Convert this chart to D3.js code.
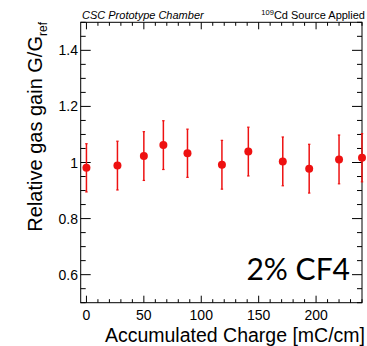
<!DOCTYPE html>
<html>
<head>
<meta charset="utf-8">
<script src="https://cdn.jsdelivr.net/npm/d3@7"></script>
<style>
  body { margin: 0; background: #fff; }
  svg { display: block; font-family: "Liberation Sans", Arial, sans-serif; }
</style>
</head>
<body>
<svg id="chart" width="367" height="346"></svg>
<script>
// accumulated charge [mC/cm], relative gain, error
const charge = [0, 27, 50, 67, 88, 118, 141, 171, 194, 220, 240];
const gain = [0.981, 0.989, 1.023, 1.062, 1.033, 0.992, 1.039, 1.004, 0.978, 1.011, 1.017];
const gainErr = [0.086, 0.087, 0.087, 0.087, 0.086, 0.087, 0.087, 0.087, 0.087, 0.087, 0.086];

const xMajor = [0, 50, 100, 150, 200];
const yMajor = [0.6, 0.8, 1.0, 1.2, 1.4];

const svg = d3.select("#chart");
const fLeft = 80.7, fRight = 362, fTop = 22.3, fBottom = 302.7;

const x = d3.scaleLinear().domain([-5, 240]).range([fLeft, fRight]);
const y = d3.scaleLinear().domain([0.5, 1.5]).range([fBottom, fTop]);

const fmt = d => String(+d.toFixed(2));

// frame
svg.append("rect")
    .attr("x", fLeft).attr("y", fTop)
    .attr("width", fRight - fLeft).attr("height", fBottom - fTop)
    .attr("fill", "none").attr("stroke", "#000").attr("stroke-width", 1);

// x ticks (bottom + top, inward)
const xMinor = d3.range(0, 241, 10);
xMinor.forEach(v => {
    const major = v % 50 === 0;
    const len = major ? 7 : 3.5;
    svg.append("line").attr("x1", x(v)).attr("x2", x(v))
        .attr("y1", fBottom).attr("y2", fBottom - len).attr("stroke", "#000");
    svg.append("line").attr("x1", x(v)).attr("x2", x(v))
        .attr("y1", fTop).attr("y2", fTop + len).attr("stroke", "#000");
});

// y ticks (left + right, inward)
const yMinor = d3.range(0.5, 1.501, 0.05);
yMinor.forEach(v => {
    const major = Math.abs(v * 10 - Math.round(v * 10)) < 1e-6 && Math.round(v * 10) % 2 === 0;
    const len = major ? 10 : 5;
    svg.append("line").attr("y1", y(v)).attr("y2", y(v))
        .attr("x1", fLeft).attr("x2", fLeft + len).attr("stroke", "#000");
    svg.append("line").attr("y1", y(v)).attr("y2", y(v))
        .attr("x1", fRight).attr("x2", fRight - len).attr("stroke", "#000");
});

// tick labels
svg.selectAll("text.xl").data(xMajor).enter().append("text")
    .attr("class", "xl")
    .attr("x", d => x(d)).attr("y", 320)
    .attr("text-anchor", "middle")
    .attr("font-size", 14)
    .text(d => d);

svg.selectAll("text.yl").data(yMajor).enter().append("text")
    .attr("class", "yl")
    .attr("x", 78).attr("y", d => y(d))
    .attr("dy", "0.36em")
    .attr("text-anchor", "end")
    .attr("font-size", 14)
    .text(fmt);

// axis titles
svg.append("text")
    .attr("x", 365).attr("y", 342)
    .attr("text-anchor", "end")
    .attr("font-size", 19.5)
    .text("Accumulated Charge [mC/cm]");

const yt = svg.append("text")
    .attr("transform", "translate(42,22) rotate(-90)")
    .attr("text-anchor", "end")
    .attr("font-size", 20);
yt.append("tspan").text("Relative gas gain G/G");
yt.append("tspan").attr("font-size", 12).attr("dy", 5).text("ref");

// header texts
svg.append("text")
    .attr("x", 82).attr("y", 18.5)
    .attr("font-size", 11).attr("font-style", "italic")
    .text("CSC Prototype Chamber");

const hr = svg.append("text")
    .attr("x", 365).attr("y", 18.5)
    .attr("text-anchor", "end")
    .attr("font-size", 11);
hr.append("tspan").attr("font-size", 7.5).attr("dy", -4).text("109");
hr.append("tspan").attr("dy", 4).text("Cd Source Applied");

// 2% CF4 label
svg.append("text")
    .attr("x", 350).attr("y", 280)
    .attr("text-anchor", "end")
    .attr("font-family", "Lato, 'Open Sans', sans-serif")
    .attr("font-size", 30)
    .text("2% CF4");

// error bars and markers
const pts = charge.map((c, i) => ({c: c, g: gain[i], e: gainErr[i]}));
const red = "#ee1111";

const eb = svg.append("g").selectAll("g").data(pts).enter().append("g");
eb.append("line")
    .attr("x1", d => x(d.c)).attr("x2", d => x(d.c))
    .attr("y1", d => y(d.g - d.e)).attr("y2", d => y(d.g + d.e))
    .attr("stroke", red).attr("stroke-width", 1.5);
eb.append("line")
    .attr("x1", d => x(d.c) - 1.2).attr("x2", d => x(d.c) + 1.2)
    .attr("y1", d => y(d.g + d.e)).attr("y2", d => y(d.g + d.e))
    .attr("stroke", red).attr("stroke-width", 1.2);
eb.append("line")
    .attr("x1", d => x(d.c) - 1.2).attr("x2", d => x(d.c) + 1.2)
    .attr("y1", d => y(d.g - d.e)).attr("y2", d => y(d.g - d.e))
    .attr("stroke", red).attr("stroke-width", 1.2);
eb.append("circle")
    .attr("cx", d => x(d.c)).attr("cy", d => y(d.g))
    .attr("r", 4).attr("fill", red);
</script>
</body>
</html>
